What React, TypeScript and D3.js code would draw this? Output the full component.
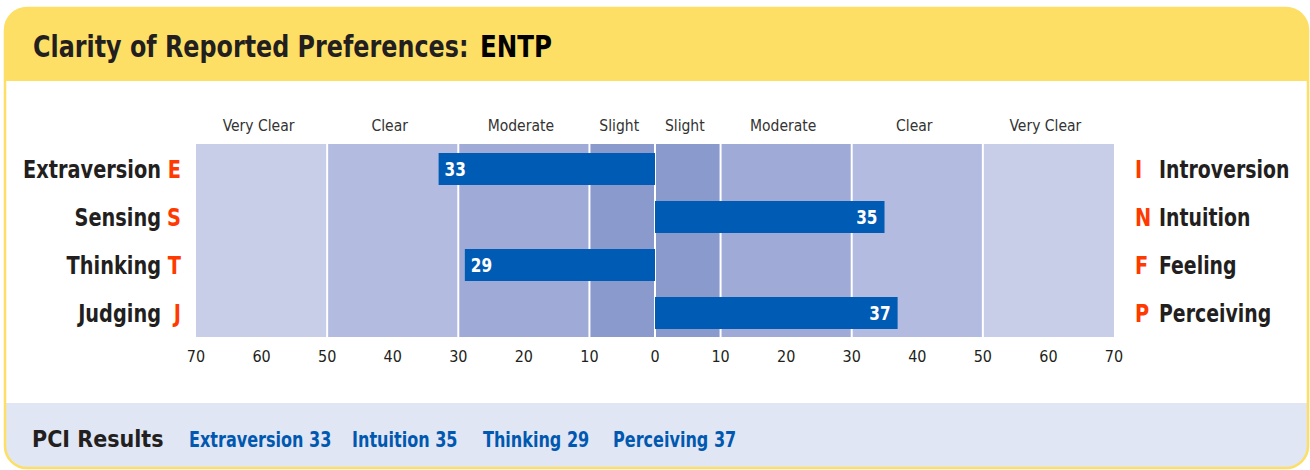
import React from "react";
import * as d3 from "d3";

const title = "Clarity of Reported Preferences:";
const typeCode = "ENTP";
const leftPoles = ["Extraversion", "Sensing", "Thinking", "Judging"];
const leftLetters = ["E", "S", "T", "J"];
const rightPoles = ["Introversion", "Intuition", "Feeling", "Perceiving"];
const rightLetters = ["I", "N", "F", "P"];
// signed: negative = left pole, positive = right pole
const scores = [-33, 35, -29, 37];
const bandEdges = [-70, -50, -30, -10, 0, 10, 30, 50, 70];
const bandNames = ["Very Clear", "Clear", "Moderate", "Slight", "Slight", "Moderate", "Clear", "Very Clear"];
const tickValues = [-70, -60, -50, -40, -30, -20, -10, 0, 10, 20, 30, 40, 50, 60, 70];
const resultLabels = ["Extraversion 33", "Intuition 35", "Thinking 29", "Perceiving 37"];

const W = 1310;
const H = 470;
const FONT = "'Liberation Sans Narrow', 'DejaVu Sans Condensed', 'Arial Narrow', sans-serif";
const bandColors = ["#c9cee8", "#b3bbe0", "#9fabd6", "#8a9acc", "#8a9acc", "#9fabd6", "#b3bbe0", "#c9cee8"];
const YELLOW = "#fddf66";
const BAR = "#005bb4";
const RED = "#ff3a00";
const DARK = "#231f20";

type TProps = {
  x: number;
  y: number;
  sx?: number;
  anchor?: "start" | "middle" | "end";
  size: number;
  bold?: boolean;
  fill: string;
  children: React.ReactNode;
};

function T({ x, y, sx = 1, anchor = "start", size, bold, fill, children }: TProps) {
  return (
    <text
      transform={`translate(${x},${y}) scale(${sx},1)`}
      textAnchor={anchor}
      fontSize={size}
      fontWeight={bold ? "bold" : "normal"}
      fill={fill}
    >
      {children}
    </text>
  );
}

export default function App() {
  const x = d3.scaleLinear().domain([-70, 70]).range([196, 1114]);
  const y = d3
    .scaleBand<number>()
    .domain(d3.range(scores.length))
    .range([145, 337])
    .paddingInner(1 / 3)
    .paddingOuter(1 / 6);
  const plotTop = 144;
  const plotBottom = 337;

  const cardL = 5;
  const cardR = 1308;
  const cardT = 8;
  const cardB = 468;
  const r = 22;
  const headerB = 81;
  const footerT = 403;

  const cardPath = `M${cardL},${cardT + r} A${r},${r} 0 0 1 ${cardL + r},${cardT} L${cardR - r},${cardT} A${r},${r} 0 0 1 ${cardR},${cardT + r} L${cardR},${cardB - r} A${r},${r} 0 0 1 ${cardR - r},${cardB} L${cardL + r},${cardB} A${r},${r} 0 0 1 ${cardL},${cardB - r} Z`;

  const resultX = [189, 352, 483, 613];

  return (
    <svg
      width={W}
      height={H}
      style={{ position: "absolute", left: 0, top: 0, display: "block" }}
      fontFamily={FONT}
    >
      <defs>
        <clipPath id="card">
          <path d={cardPath} />
        </clipPath>
      </defs>
      <rect width={W} height={H} fill="#ffffff" />
      <g clipPath="url(#card)">
        <rect x={cardL} y={cardT} width={cardR - cardL} height={cardB - cardT} fill="#ffffff" />
        <rect x={cardL} y={cardT} width={cardR - cardL} height={headerB - cardT} fill={YELLOW} />
        <rect x={cardL} y={footerT} width={cardR - cardL} height={cardB - footerT} fill="#e0e6f3" />
      </g>
      <path d={cardPath} fill="none" stroke={YELLOW} strokeWidth={2.5} />

      {/* title */}
      <T x={33} y={57} sx={0.855} size={31} bold fill={DARK}>
        {title}
      </T>
      <T x={480} y={57} sx={0.88} size={31} bold fill="#000">
        {typeCode}
      </T>

      {/* bands */}
      {bandNames.map((name, i) => {
        const x0 = x(bandEdges[i]);
        const x1 = x(bandEdges[i + 1]);
        return (
          <g key={i}>
            <rect x={x0} y={plotTop} width={x1 - x0} height={plotBottom - plotTop} fill={bandColors[i]} />
            <T x={(x0 + x1) / 2 - 3} y={131} anchor="middle" size={15.5} fill="#333">
              {name}
            </T>
          </g>
        );
      })}
      {bandEdges.slice(1, -1).map((v, i) => (
        <line key={i} x1={x(v)} x2={x(v)} y1={plotTop} y2={plotBottom} stroke="#ffffff" strokeWidth={2} />
      ))}

      {/* bars */}
      {scores.map((s, i) => {
        const x0 = Math.min(x(0), x(s));
        const x1 = Math.max(x(0), x(s));
        const yy = y(i)!;
        const bw = y.bandwidth();
        const left = s < 0;
        return (
          <g key={i}>
            <rect x={x0} y={yy} width={x1 - x0} height={bw} fill={BAR} />
            <T
              x={left ? x0 + 6 : x1 - 7}
              y={yy + bw / 2 + 7}
              anchor={left ? "start" : "end"}
              size={20}
              sx={0.85}
              bold
              fill="#ffffff"
            >
              {Math.abs(s)}
            </T>
          </g>
        );
      })}

      {/* pole labels */}
      {leftPoles.map((p, i) => {
        const cy = y(i)! + y.bandwidth() / 2;
        return (
          <g key={i}>
            <T x={161} y={cy + 9} anchor="end" sx={0.86} size={25} bold fill={DARK}>
              {p}
            </T>
            <T x={181} y={cy + 9} anchor="end" sx={0.86} size={25} bold fill={RED}>
              {leftLetters[i]}
            </T>
            <T x={1135} y={cy + 9} sx={0.86} size={25} bold fill={RED}>
              {rightLetters[i]}
            </T>
            <T x={1159} y={cy + 9} sx={0.84} size={25} bold fill={DARK}>
              {rightPoles[i]}
            </T>
          </g>
        );
      })}

      {/* axis ticks */}
      {tickValues.map((v, i) => (
        <T key={i} x={x(v)} y={362} anchor="middle" size={16} fill={DARK}>
          {Math.abs(v)}
        </T>
      ))}

      {/* footer */}
      <T x={32} y={447} size={23} bold fill={DARK}>
        PCI Results
      </T>
      {resultLabels.map((t, i) => (
        <T key={i} x={resultX[i]} y={447} sx={0.85} size={21} bold fill="#0058b0">
          {t}
        </T>
      ))}
    </svg>
  );
}
